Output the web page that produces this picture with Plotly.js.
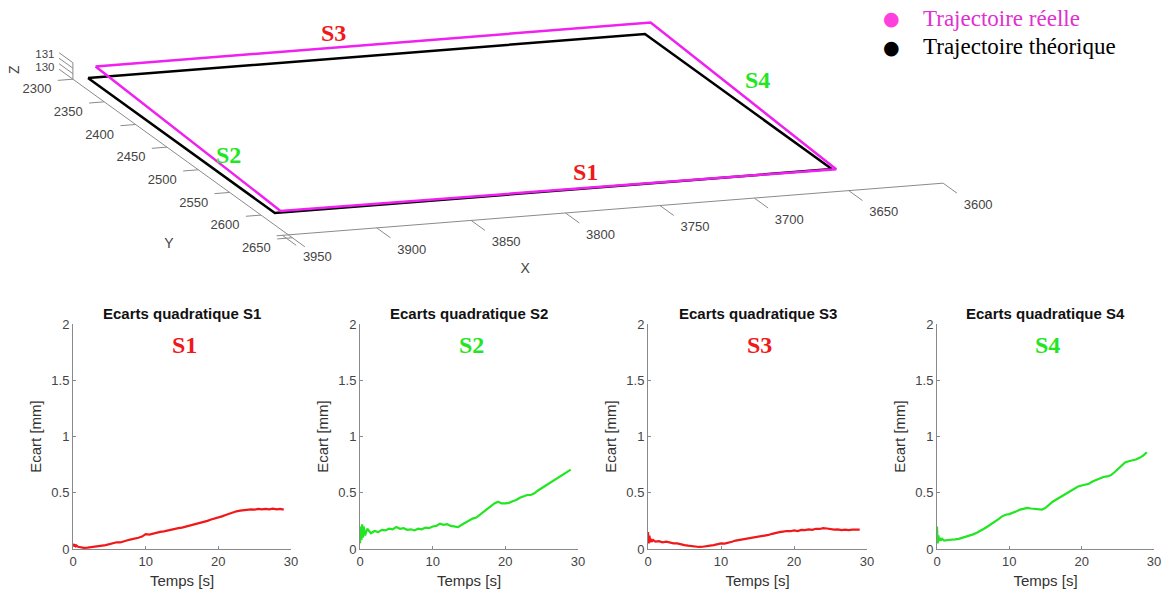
<!DOCTYPE html>
<html>
<head>
<meta charset="utf-8">
<script src="https://cdn.plot.ly/plotly-3.0.1.min.js"></script>
<style>html,body{margin:0;padding:0;background:#fff;}#chart{width:1168px;height:597px;}</style>
</head>
<body>
<div id="chart"></div>
<script>
// ---- 3D trajectories (data coordinates X, Y, Z) ----
const theoX = [3945, 3945, 3650, 3650, 3945];
const theoY = [2300, 2598, 2598, 2300, 2300];
const theoZ = [130, 130, 130, 130, 130];
const realX = [3941, 3942, 3648, 3647, 3941];
const realY = [2300, 2598, 2599, 2300, 2300];
const realZ = [131, 130.15, 130, 131, 131];
const xTicks = [3600, 3650, 3700, 3750, 3800, 3850, 3900, 3950];
const yTicks = [2300, 2350, 2400, 2450, 2500, 2550, 2600, 2650];
const zTicks = [130, 131];
const zMinorTicks = [130.5, 131.5];

// ---- time series ----
const t = [0, 0.1, 0.2, 0.3, 0.4, 0.5, 0.7, 1, 1.5, 2, 2.5, 3, 3.5, 4, 4.5, 5, 5.5, 6, 6.5, 7, 7.5, 8, 8.5, 9, 9.5, 10, 10.5, 11, 11.5, 12, 12.5, 13, 13.5, 14, 14.5, 15, 15.5, 16, 16.5, 17, 17.5, 18, 18.5, 19, 19.5, 20, 20.5, 21, 21.5, 22, 22.5, 23, 23.5, 24, 24.5, 25, 25.5, 26, 26.5, 27, 27.5, 28, 28.5, 29];
const s1 = [0.03, 0.045, 0.02, 0.04, 0.025, 0.03, 0.02, 0.015, 0.01, 0.012, 0.015, 0.02, 0.022, 0.03, 0.035, 0.045, 0.05, 0.06, 0.058, 0.07, 0.078, 0.085, 0.09, 0.1, 0.11, 0.132, 0.128, 0.138, 0.143, 0.152, 0.157, 0.166, 0.171, 0.178, 0.186, 0.19, 0.198, 0.205, 0.213, 0.22, 0.23, 0.24, 0.25, 0.262, 0.27, 0.282, 0.29, 0.302, 0.315, 0.326, 0.335, 0.341, 0.345, 0.349, 0.353, 0.35, 0.357, 0.352, 0.357, 0.353, 0.358, 0.352, 0.357, 0.35];
const s2 = [0.05, 0.2, 0.08, 0.22, 0.1, 0.2, 0.12, 0.18, 0.14, 0.16, 0.15, 0.17, 0.165, 0.18, 0.175, 0.195, 0.18, 0.185, 0.17, 0.175, 0.165, 0.18, 0.175, 0.19, 0.185, 0.2, 0.205, 0.225, 0.215, 0.22, 0.205, 0.2, 0.195, 0.215, 0.235, 0.25, 0.27, 0.28, 0.305, 0.33, 0.36, 0.385, 0.405, 0.42, 0.405, 0.405, 0.41, 0.425, 0.435, 0.455, 0.465, 0.48, 0.48, 0.495, 0.52, 0.54, 0.565, 0.585, 0.605, 0.625, 0.645, 0.665, 0.685, 0.705];
const s3 = [0.15, 0.05, 0.12, 0.06, 0.09, 0.065, 0.08, 0.065, 0.07, 0.06, 0.065, 0.055, 0.05, 0.05, 0.04, 0.035, 0.03, 0.025, 0.02, 0.018, 0.02, 0.022, 0.03, 0.035, 0.04, 0.05, 0.048, 0.06, 0.065, 0.075, 0.08, 0.09, 0.09, 0.1, 0.1, 0.11, 0.11, 0.12, 0.125, 0.135, 0.145, 0.15, 0.155, 0.16, 0.158, 0.165, 0.16, 0.17, 0.168, 0.175, 0.17, 0.18, 0.178, 0.185, 0.182, 0.178, 0.172, 0.175, 0.168, 0.172, 0.168, 0.172, 0.17, 0.172];
const s4 = [0.2, 0.05, 0.12, 0.07, 0.1, 0.075, 0.09, 0.075, 0.08, 0.08, 0.085, 0.09, 0.1, 0.105, 0.115, 0.13, 0.145, 0.16, 0.18, 0.2, 0.22, 0.245, 0.265, 0.29, 0.305, 0.31, 0.32, 0.335, 0.35, 0.36, 0.365, 0.36, 0.355, 0.35, 0.35, 0.365, 0.395, 0.42, 0.44, 0.46, 0.48, 0.5, 0.52, 0.54, 0.555, 0.565, 0.57, 0.58, 0.6, 0.615, 0.63, 0.64, 0.645, 0.655, 0.68, 0.71, 0.745, 0.77, 0.78, 0.785, 0.795, 0.81, 0.83, 0.86];
const series = [s1, s2, s3, s4];
const panelNames = ['S1', 'S2', 'S3', 'S4'];
const panelTitles = ['Ecarts quadratique S1', 'Ecarts quadratique S2', 'Ecarts quadratique S3', 'Ecarts quadratique S4'];
const legendLabels = ['Trajectoire réelle', 'Trajectoire théorique'];

const RED = '#f01818', GREEN = '#22e622', MAG = '#f020f0';
const panelColors = [RED, GREEN, RED, GREEN];
const AXC = '#8a8a8a', TXC = '#444444';

const W = 1168, H = 597;
const px = v => v / W, py = v => 1 - v / H;

// ---- orthographic view of the 3D box (MATLAB-like view), onto a hidden pixel-scaled 2D axis ----
const XREF = 3945, YREF = 2300, ZREF = 130, U0 = 88, V0 = 78;
const KXU = 1.888, KXV = 0.149, KYU = 0.627, KYV = 0.453, KZ = 11;
function proj(x, y, z) {
  return [U0 + (XREF - x) * KXU + (y - YREF) * KYU,
          V0 - (XREF - x) * KXV + (y - YREF) * KYV - (z - ZREF) * KZ];
}
const xLim = [3600, 3953], yLim = [2300, 2670], zLim = [130, 131.5];
const xAxisAt = {y: 2625, z: 129.15}; // where the X axis line sits in the view
const yAxisAt = {x: 3953, z: 130};
const zAxisAt = {x: 3953, y: 2300};

function pathTrace(pts, color, width) {
  const u = [], v = [];
  pts.forEach(p => { if (p === null) { u.push(null); v.push(null); } else { const q = proj(p[0], p[1], p[2]); u.push(q[0]); v.push(q[1]); } });
  return {type: 'scatter', mode: 'lines', x: u, y: v, xaxis: 'x5', yaxis: 'y5',
          line: {color: color, width: width}, showlegend: false, hoverinfo: 'skip', cliponaxis: false};
}
function textTrace(items, size, color) {
  return {type: 'scatter', mode: 'text', x: items.map(i => i[0]), y: items.map(i => i[1]), text: items.map(i => i[2]),
          textposition: 'middle center', textfont: {size: size, color: color, family: 'Liberation Sans, Arial, sans-serif'},
          xaxis: 'x5', yaxis: 'y5', showlegend: false, hoverinfo: 'skip', cliponaxis: false};
}

const data = [];
// axis lines
data.push(pathTrace([[xLim[0], xAxisAt.y, xAxisAt.z], [xLim[1], xAxisAt.y, xAxisAt.z]], AXC, 1));
data.push(pathTrace([[yAxisAt.x, yLim[0], yAxisAt.z], [yAxisAt.x, yLim[1], yAxisAt.z]], AXC, 1));
data.push(pathTrace([[zAxisAt.x, zAxisAt.y, zLim[0]], [zAxisAt.x, zAxisAt.y, zLim[1]]], AXC, 1));
// ticks (x ticks point toward +Y, y ticks toward +X, z ticks toward -Y)
const tickPts = [];
xTicks.forEach(v => { tickPts.push([v, xAxisAt.y, xAxisAt.z], [v, xAxisAt.y + 22, xAxisAt.z], null); });
yTicks.forEach(v => { tickPts.push([yAxisAt.x, v, yAxisAt.z], [yAxisAt.x + 8, v, yAxisAt.z], null); });
zTicks.concat(zMinorTicks).forEach(v => { tickPts.push([zAxisAt.x, zAxisAt.y, v], [zAxisAt.x, zAxisAt.y - 22, v], null); });
data.push(pathTrace(tickPts, AXC, 1));
// tick labels
const lab = [];
xTicks.forEach(v => { const q = proj(v, xAxisAt.y, xAxisAt.z); lab.push([q[0] + 35, q[1] + 22.5, String(v)]); });
yTicks.forEach(v => { const q = proj(yAxisAt.x, v, yAxisAt.z); lab.push([q[0] - 36, q[1] + 11, String(v)]); });
data.push(textTrace(lab, 13, TXC));
const zlab = [];
zTicks.forEach((v, i) => { const q = proj(zAxisAt.x, zAxisAt.y, v); zlab.push([q[0] - 28, q[1] - 12 - (i === 1 ? 1 : -0.5), String(v)]); });
data.push(textTrace(zlab, 11.5, TXC));
// axis titles
const qx = proj(3823, xAxisAt.y, xAxisAt.z);
const qy = proj(yAxisAt.x, (yLim[0] + yLim[1]) / 2, yAxisAt.z);
data.push(textTrace([[qx[0] + 3, qx[1] + 53, 'X'], [qy[0] - 20, qy[1] + 81, 'Y']], 14, TXC));

// trajectories
data.push(pathTrace(theoX.map((v, i) => [v, theoY[i], theoZ[i]]), '#000000', 2.5));
data.push(pathTrace(realX.map((v, i) => [v, realY[i], realZ[i]]), MAG, 2.5));

const xDom = [[73, 291], [360, 578], [648, 867], [937, 1154]];
const yDom = [py(549), py(324)];

const layout = {
  width: W, height: H,
  margin: {l: 0, r: 0, t: 0, b: 0},
  paper_bgcolor: '#fff', plot_bgcolor: 'rgba(0,0,0,0)',
  showlegend: false,
  font: {family: 'Liberation Sans, Arial, sans-serif', color: TXC},
  xaxis5: {domain: [0, 1], range: [0, W], visible: false, fixedrange: true, anchor: 'y5'},
  yaxis5: {domain: [0, 1], range: [H, 0], visible: false, fixedrange: true, anchor: 'x5'},
  annotations: []
};

for (let i = 0; i < 4; i++) {
  const k = i === 0 ? '' : String(i + 1);
  data.push({type: 'scatter', mode: 'lines', x: t, y: series[i], xaxis: 'x' + k, yaxis: 'y' + k,
             line: {color: panelColors[i], width: 2.2}, showlegend: false, hoverinfo: 'skip'});
  layout['xaxis' + k] = {
    domain: [px(xDom[i][0]), px(xDom[i][1])], anchor: 'y' + k, range: [0, 30], dtick: 10,
    showline: true, linecolor: AXC, linewidth: 1, ticks: 'inside', ticklen: 3, tickcolor: AXC,
    showgrid: false, zeroline: false, tickfont: {size: 13, color: TXC},
    title: {text: 'Temps [s]', font: {size: 15, color: '#333'}, standoff: 7}
  };
  layout['yaxis' + k] = {
    domain: yDom, anchor: 'x' + k, range: [0, 2], dtick: 0.5,
    showline: true, linecolor: AXC, linewidth: 1, ticks: 'inside', ticklen: 3, tickcolor: AXC,
    showgrid: false, zeroline: false, tickfont: {size: 13, color: TXC},
    title: {text: 'Ecart [mm]', font: {size: 15, color: '#333'}, standoff: 6}
  };
  const cx = px((xDom[i][0] + xDom[i][1]) / 2);
  layout.annotations.push({xref: 'paper', yref: 'paper', x: cx, y: py(313), text: '<b>' + panelTitles[i] + '</b>',
    showarrow: false, font: {size: 15, color: '#111'}, xanchor: 'center', yanchor: 'middle'});
  layout.annotations.push({xref: 'paper', yref: 'paper', x: cx + px(2), y: py(345), text: '<b>' + panelNames[i] + '</b>',
    showarrow: false, font: {size: 24, color: panelColors[i], family: 'Liberation Serif, Times New Roman, serif'},
    xanchor: 'center', yanchor: 'middle'});
}

// Z axis title
layout.annotations.push({xref: 'paper', yref: 'paper', x: px(14), y: py(70), text: 'Z', textangle: -90, showarrow: false,
  xanchor: 'center', yanchor: 'middle', font: {size: 14, color: TXC}});

// labels of the sides in the 3D view
const sideLab = [['S3', 333, 33, RED], ['S4', 757, 80, GREEN], ['S2', 228, 155, GREEN], ['S1', 585, 172, RED]];
sideLab.forEach(s => layout.annotations.push({xref: 'paper', yref: 'paper', x: px(s[1]), y: py(s[2]),
  text: '<b>' + s[0] + '</b>', showarrow: false, xanchor: 'center', yanchor: 'middle',
  font: {size: 24, color: s[3], family: 'Liberation Serif, Times New Roman, serif'}}));

// legend
const legColors = ['#e030d0', '#000000'];
const legDot = ['#ff40dd', '#000000'];
const legY = [18, 47];
for (let i = 0; i < 2; i++) {
  layout.annotations.push({xref: 'paper', yref: 'paper', x: px(891), y: py(legY[i]), text: '●', showarrow: false,
    xanchor: 'center', yanchor: 'middle', font: {size: 19, color: legDot[i], family: 'DejaVu Sans'}});
  layout.annotations.push({xref: 'paper', yref: 'paper', x: px(921), y: py(legY[i]), text: legendLabels[i], showarrow: false,
    xanchor: 'left', yanchor: 'middle', font: {size: 23, color: legColors[i], family: 'Liberation Serif, Times New Roman, serif'}});
}

Plotly.newPlot('chart', data, layout, {staticPlot: true, displayModeBar: false});
</script>
</body>
</html>
